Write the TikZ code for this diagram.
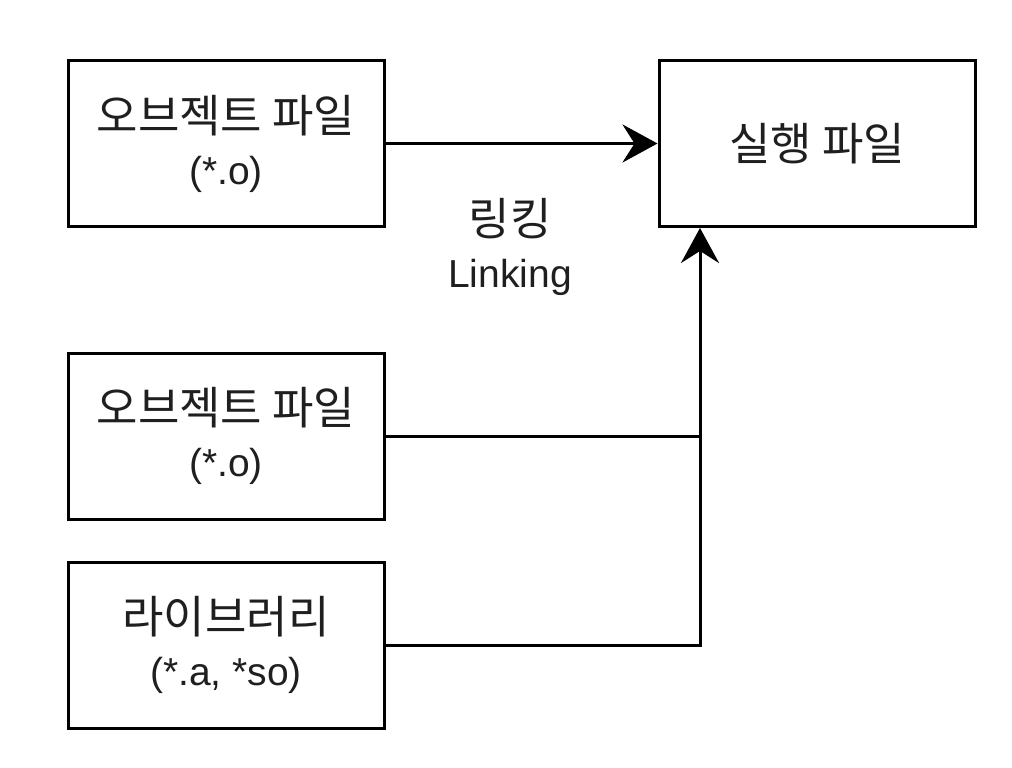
\documentclass[tikz,border=0pt]{standalone}
\usepackage{fontspec}
\setmainfont{Liberation Sans}
\newfontfamily\krfont{Noto Sans CJK KR}
\newcommand\kr{\krfont\fontsize{45}{54}\selectfont}
\usetikzlibrary{arrows.meta}
\begin{document}
\begin{tikzpicture}[x=1pt,y=-1pt,
  txt/.style={align=center, font=\fontsize{39}{52}\selectfont, text=black!88},
  box/.style={txt, draw, line width=3pt, minimum width=316pt, minimum height=166pt, inner sep=0pt},
  wire/.style={line width=3pt},
  tip/.style={-{Stealth[length=35pt,width=38pt,inset=12pt]}}]
\useasboundingbox (0,0) rectangle (1012,768);
% files
\node[box] (obj1) at (226,143.5) {{\kr 오브젝트 파일}\\(*.o)};
\node[box] (obj2) at (226,436) {{\kr 오브젝트 파일}\\(*.o)};
\node[box] (lib)  at (226,645) {{\kr 라이브러리}\\(*.a, *so)};
\node[box] (exe)  at (817,143.5) {\kr 실행 파일};
% label
\node[txt] (lbl) at (510,247) {{\kr 링킹}\\Linking};
% connectors
\coordinate (join) at (700,436);
\draw[wire,tip] (obj1.east) -- (exe.west);
\draw[wire] (obj2.east) -- (join);
\draw[wire,tip] (lib.east) -| (join |- exe.south);
\end{tikzpicture}
\end{document}
